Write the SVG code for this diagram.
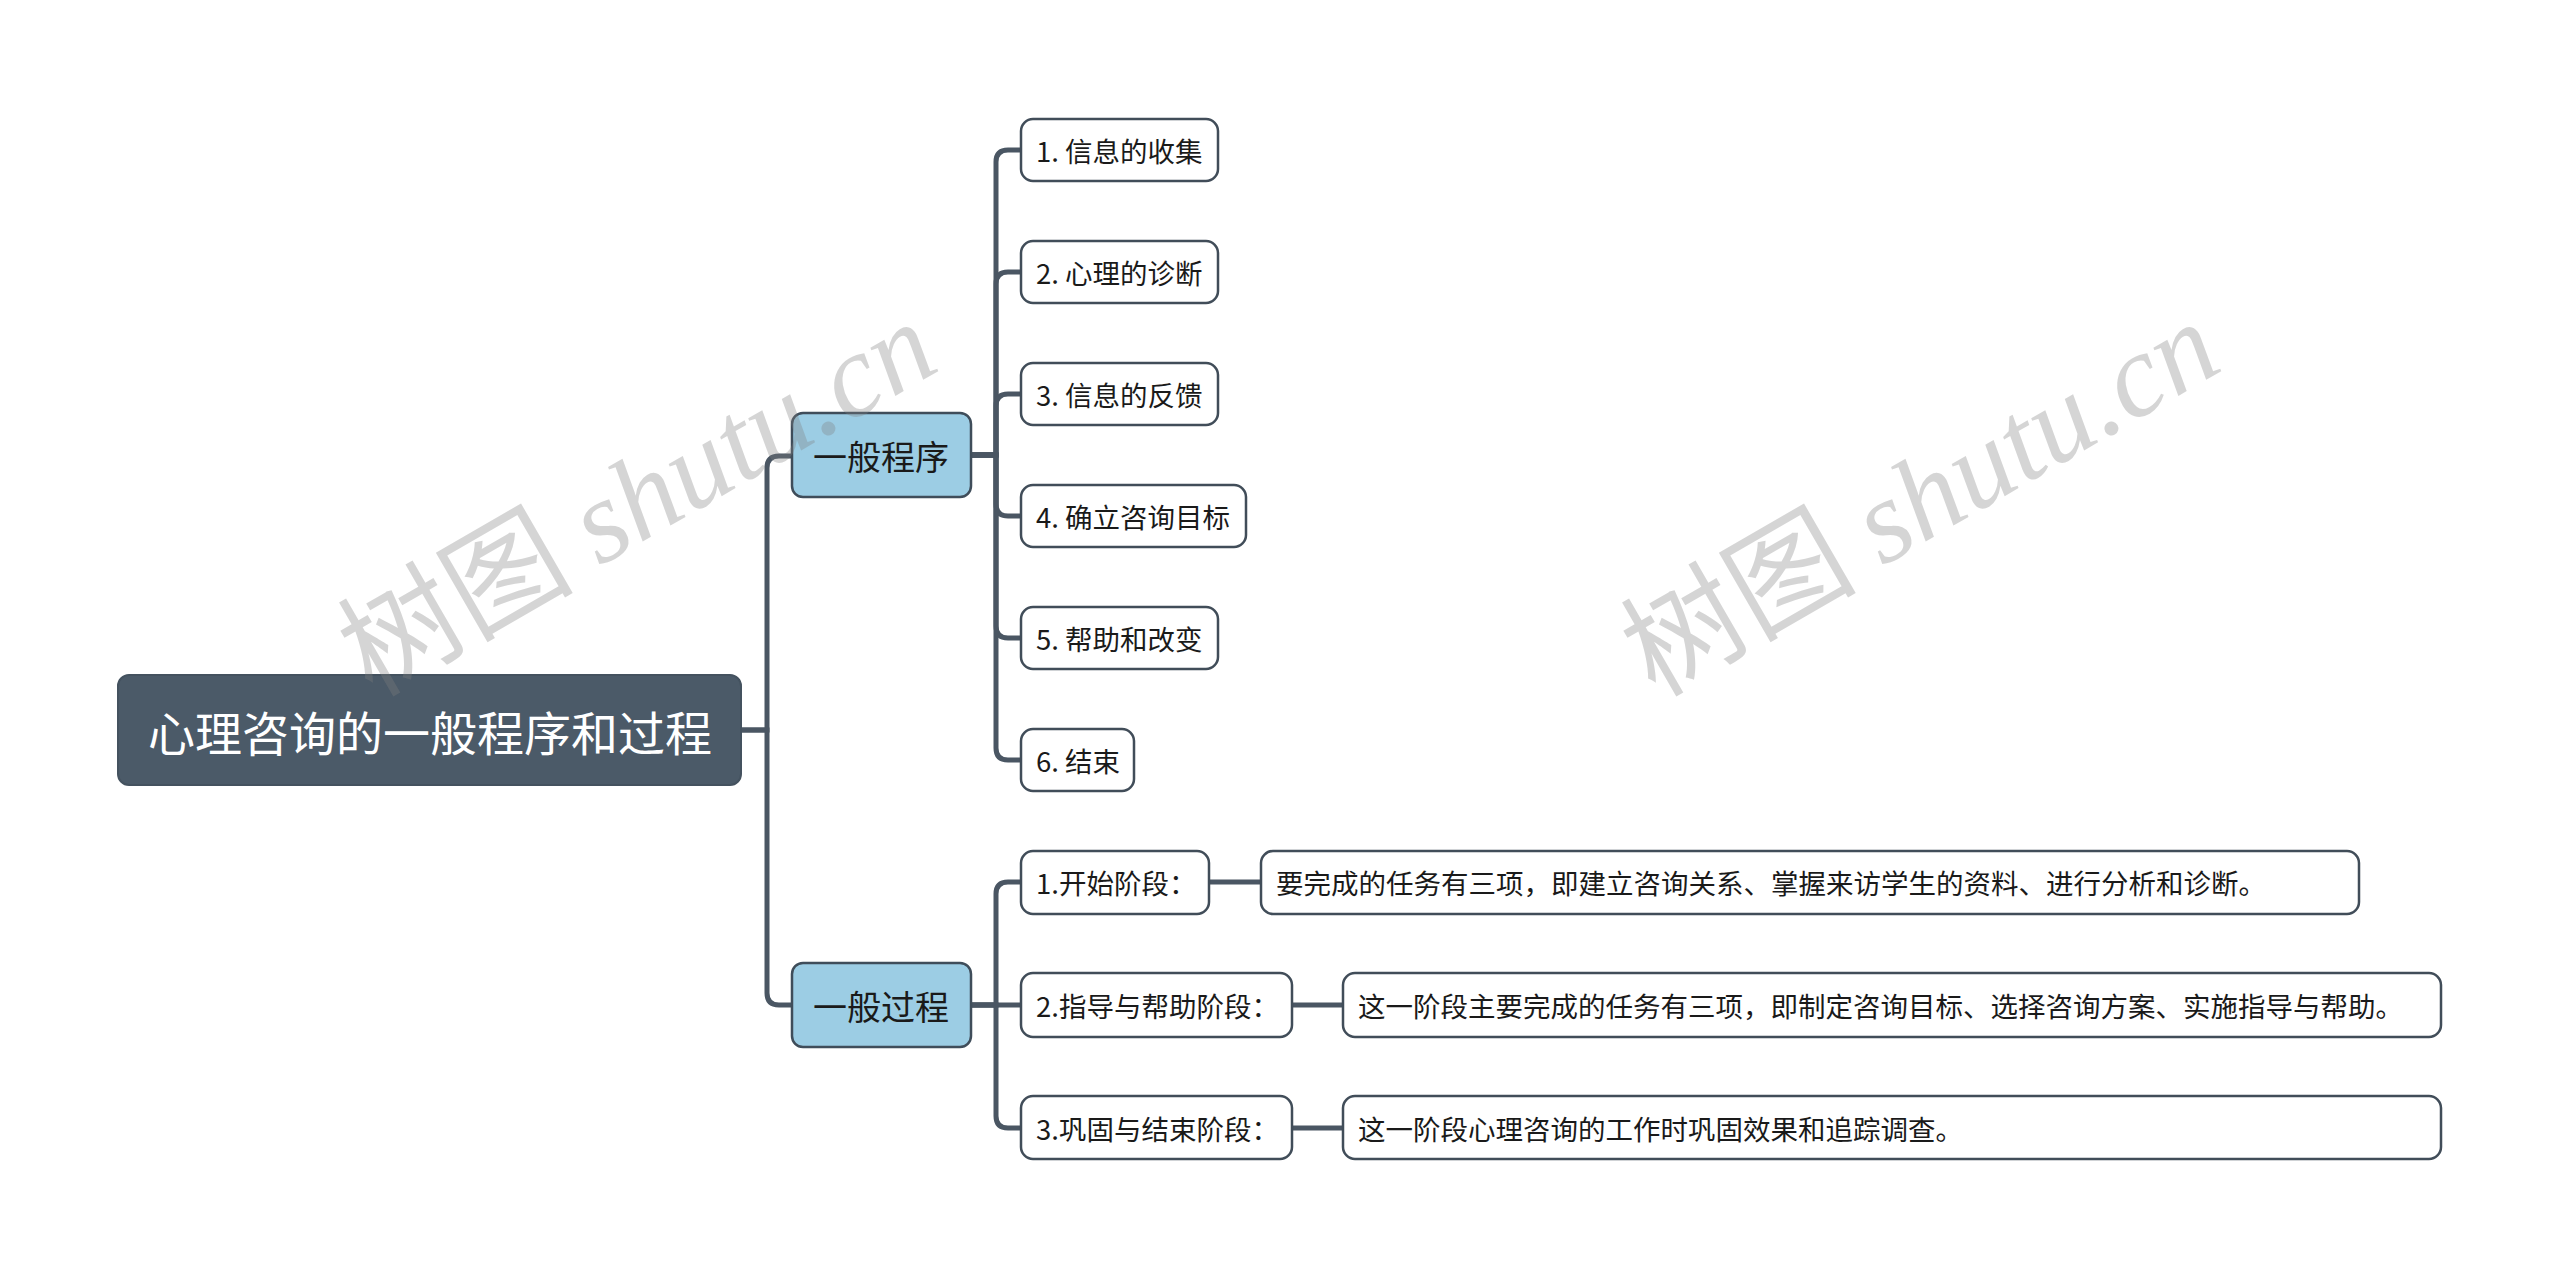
<svg xmlns="http://www.w3.org/2000/svg" width="2560" height="1277" viewBox="0 0 2560 1277">
<style>
.root{fill:#4b5a68;stroke:#44525f;stroke-width:2}
.branch{fill:#9ccde4;stroke:#3f4d5a;stroke-width:2.5}
.leaf{fill:#ffffff;stroke:#414d59;stroke-width:2.5}
.conn{fill:none;stroke:#4a5663;stroke-width:5;stroke-linecap:butt}
text{font-family:"Microsoft YaHei","Noto Sans CJK SC","Noto Sans",sans-serif;dominant-baseline:central}
.rt{font-size:47px;fill:#ffffff;text-anchor:middle}
.bt{font-size:34px;fill:#1a1a1a;text-anchor:middle}
.lt{font-size:27.5px;fill:#1a1a1a}
.wm{font-size:118px;fill:#7f7f7f;fill-opacity:0.33;dominant-baseline:auto}
.wml{font-family:"Liberation Serif",serif;font-style:italic}
</style>
<rect width="2560" height="1277" fill="#ffffff"/>
<g id="connectors">
<path class="conn" d="M741 730 H767 V468 Q767 456 779 456 H792"/>
<path class="conn" d="M741 730 H767 V993 Q767 1005 779 1005 H792"/>
<path class="conn" d="M971 455 H996 V162 Q996 150 1008 150 H1021"/>
<path class="conn" d="M971 455 H996 V284 Q996 272 1008 272 H1021"/>
<path class="conn" d="M971 455 H996 V406 Q996 394 1008 394 H1021"/>
<path class="conn" d="M971 455 H996 V504 Q996 516 1008 516 H1021"/>
<path class="conn" d="M971 455 H996 V626 Q996 638 1008 638 H1021"/>
<path class="conn" d="M971 455 H996 V748 Q996 760 1008 760 H1021"/>
<path class="conn" d="M971 1005 H996 V894 Q996 882 1008 882 H1021"/>
<path class="conn" d="M971 1005 H1021"/>
<path class="conn" d="M971 1005 H996 V1116 Q996 1128 1008 1128 H1021"/>
<path class="conn" d="M1209 882 H1261"/>
<path class="conn" d="M1292 1005 H1343"/>
<path class="conn" d="M1292 1128 H1343"/>
</g>
<g id="root"><rect class="root" x="118" y="675" width="623" height="110" rx="11"/><text class="rt" x="430" y="730">心理咨询的一般程序和过程</text></g>
<g id="branch-procedure"><rect class="branch" x="792" y="413" width="179" height="84" rx="11"/><text class="bt" x="881" y="455">一般程序</text></g>
<g id="branch-process"><rect class="branch" x="792" y="963" width="179" height="84" rx="11"/><text class="bt" x="881" y="1005">一般过程</text></g>
<g id="p1"><rect class="leaf" x="1021" y="119" width="197" height="62" rx="12"/><text class="lt" x="1036" y="150">1. 信息的收集</text></g>
<g id="p2"><rect class="leaf" x="1021" y="241" width="197" height="62" rx="12"/><text class="lt" x="1036" y="272">2. 心理的诊断</text></g>
<g id="p3"><rect class="leaf" x="1021" y="363" width="197" height="62" rx="12"/><text class="lt" x="1036" y="394">3. 信息的反馈</text></g>
<g id="p4"><rect class="leaf" x="1021" y="485" width="225" height="62" rx="12"/><text class="lt" x="1036" y="516">4. 确立咨询目标</text></g>
<g id="p5"><rect class="leaf" x="1021" y="607" width="197" height="62" rx="12"/><text class="lt" x="1036" y="638">5. 帮助和改变</text></g>
<g id="p6"><rect class="leaf" x="1021" y="729" width="113" height="62" rx="12"/><text class="lt" x="1036" y="760">6. 结束</text></g>
<g id="s1"><rect class="leaf" x="1021" y="851" width="188" height="63" rx="12"/><text class="lt" x="1036" y="882">1.开始阶段：</text></g>
<g id="s2"><rect class="leaf" x="1021" y="973" width="271" height="64" rx="12"/><text class="lt" x="1036" y="1005">2.指导与帮助阶段：</text></g>
<g id="s3"><rect class="leaf" x="1021" y="1096" width="271" height="63" rx="12"/><text class="lt" x="1036" y="1128">3.巩固与结束阶段：</text></g>
<g id="d1"><rect class="leaf" x="1261" y="851" width="1098" height="63" rx="12"/><text class="lt" x="1276" y="882">要完成的任务有三项，即建立咨询关系、掌握来访学生的资料、进行分析和诊断。</text></g>
<g id="d2"><rect class="leaf" x="1343" y="973" width="1098" height="64" rx="12"/><text class="lt" x="1358" y="1005">这一阶段主要完成的任务有三项，即制定咨询目标、选择咨询方案、实施指导与帮助。</text></g>
<g id="d3"><rect class="leaf" x="1343" y="1096" width="1098" height="63" rx="12"/><text class="lt" x="1358" y="1128">这一阶段心理咨询的工作时巩固效果和追踪调查。</text></g>
<g id="watermark">
<text class="wm" transform="translate(372,698) rotate(-30)">树图 <tspan class="wml">shutu.cn</tspan></text>
<text class="wm" transform="translate(1655,698) rotate(-30)">树图 <tspan class="wml">shutu.cn</tspan></text>
</g>
</svg>
